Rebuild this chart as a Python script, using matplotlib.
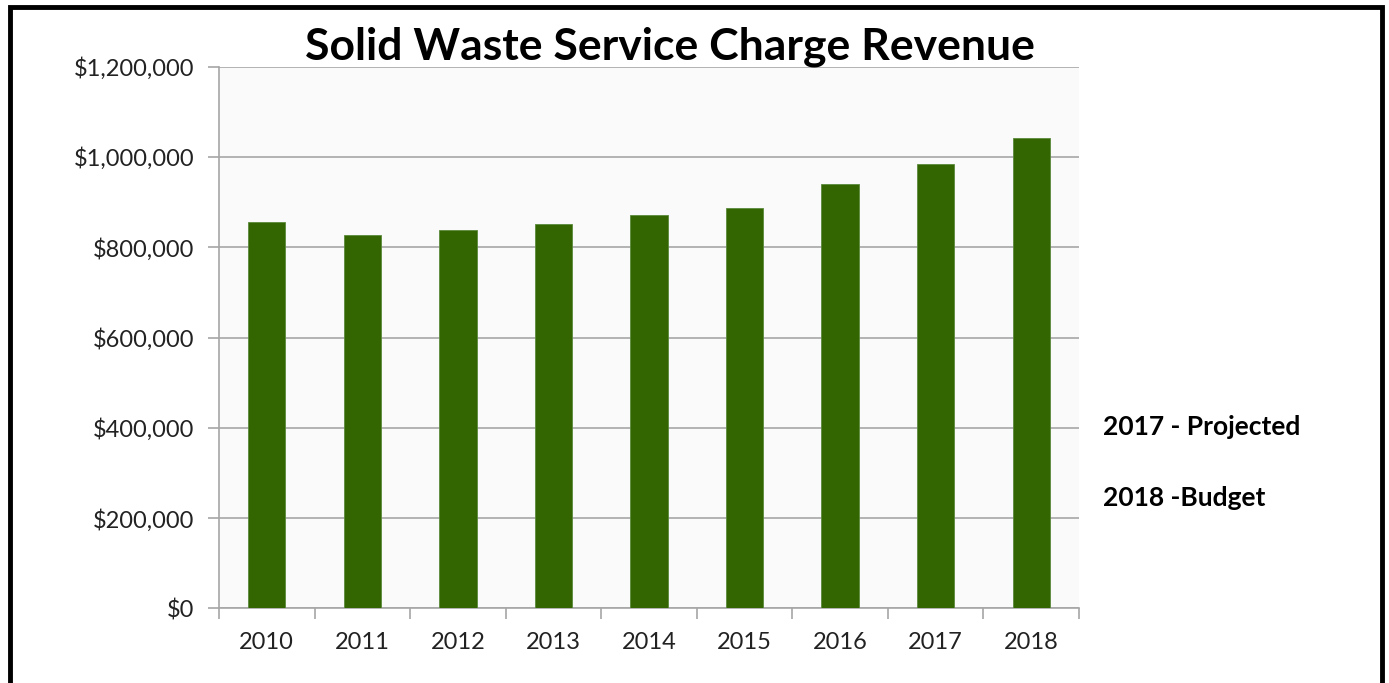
import matplotlib
matplotlib.use("Agg")
import matplotlib.pyplot as plt
from matplotlib.ticker import FuncFormatter, MultipleLocator
import numpy as np

years = ["2010", "2011", "2012", "2013", "2014", "2015", "2016", "2017", "2018"]
revenue = [855000, 826000, 839000, 852000, 872000, 886000, 941000, 984000, 1043000]
title = "Solid Waste Service Charge Revenue"
notes = ["2017 - Projected", "2018 -Budget"]

plt.rcParams['font.family'] = ['Lato', 'DejaVu Sans']

W, H = 1389, 683
fig = plt.figure(figsize=(W / 100, H / 100), dpi=100)
fig.patch.set_facecolor("white")

ax = fig.add_axes([219 / W, 1 - 608.3 / H, (1079 - 219) / W, (608.3 - 66.7) / H])
ax.set_facecolor("#FAFAFA")
x = np.arange(len(years))
ax.bar(x, revenue, width=0.39, color="#336600", edgecolor="#5A8A3A", linewidth=0.6, zorder=3)
ax.set_xlim(-0.5, len(years) - 0.5)
ax.set_ylim(0, 1200000)
ax.yaxis.set_major_locator(MultipleLocator(200000))
ax.yaxis.set_major_formatter(FuncFormatter(lambda v, p: "${:,.0f}".format(v)))
ax.set_xticks(x)
ax.set_xticklabels(years)
ax.set_xticks(np.arange(-0.5, len(years), 1.0), minor=True)
ax.tick_params(axis="x", which="major", length=0, pad=17, labelsize=17, colors="#222222")
ax.tick_params(axis="x", which="minor", length=8, color="#A6A6A6", width=1.2)
ax.tick_params(axis="y", which="major", length=8, color="#A6A6A6", width=1.2, pad=10,
               labelsize=17, colors="#222222")
ax.grid(axis="y", color="#A6A6A6", linewidth=1.2, zorder=0)
for s in ["top", "right"]:
    ax.spines[s].set_visible(False)
for s in ["left", "bottom"]:
    ax.spines[s].set_color("#A6A6A6")
    ax.spines[s].set_linewidth(1.2)

fig.text(670 / W, 1 - 47 / H, title, ha="center", va="center", fontsize=32,
         fontweight="bold", color="black")
fig.text(1103 / W, 1 - 427 / H, notes[0], ha="left", va="center", fontsize=19,
         fontweight="bold", color="black")
fig.text(1103 / W, 1 - 498 / H, notes[1], ha="left", va="center", fontsize=19,
         fontweight="bold", color="black")

# outer frame (left, top, right)
fig.add_artist(plt.Line2D([9.5 / W, 9.5 / W, 1381.5 / W, 1381.5 / W],
                          [0, 1 - 7 / H, 1 - 7 / H, 0], transform=fig.transFigure,
                          color="black", linewidth=3.5, solid_joinstyle="miter"))

fig.savefig("out.png", dpi=100)
